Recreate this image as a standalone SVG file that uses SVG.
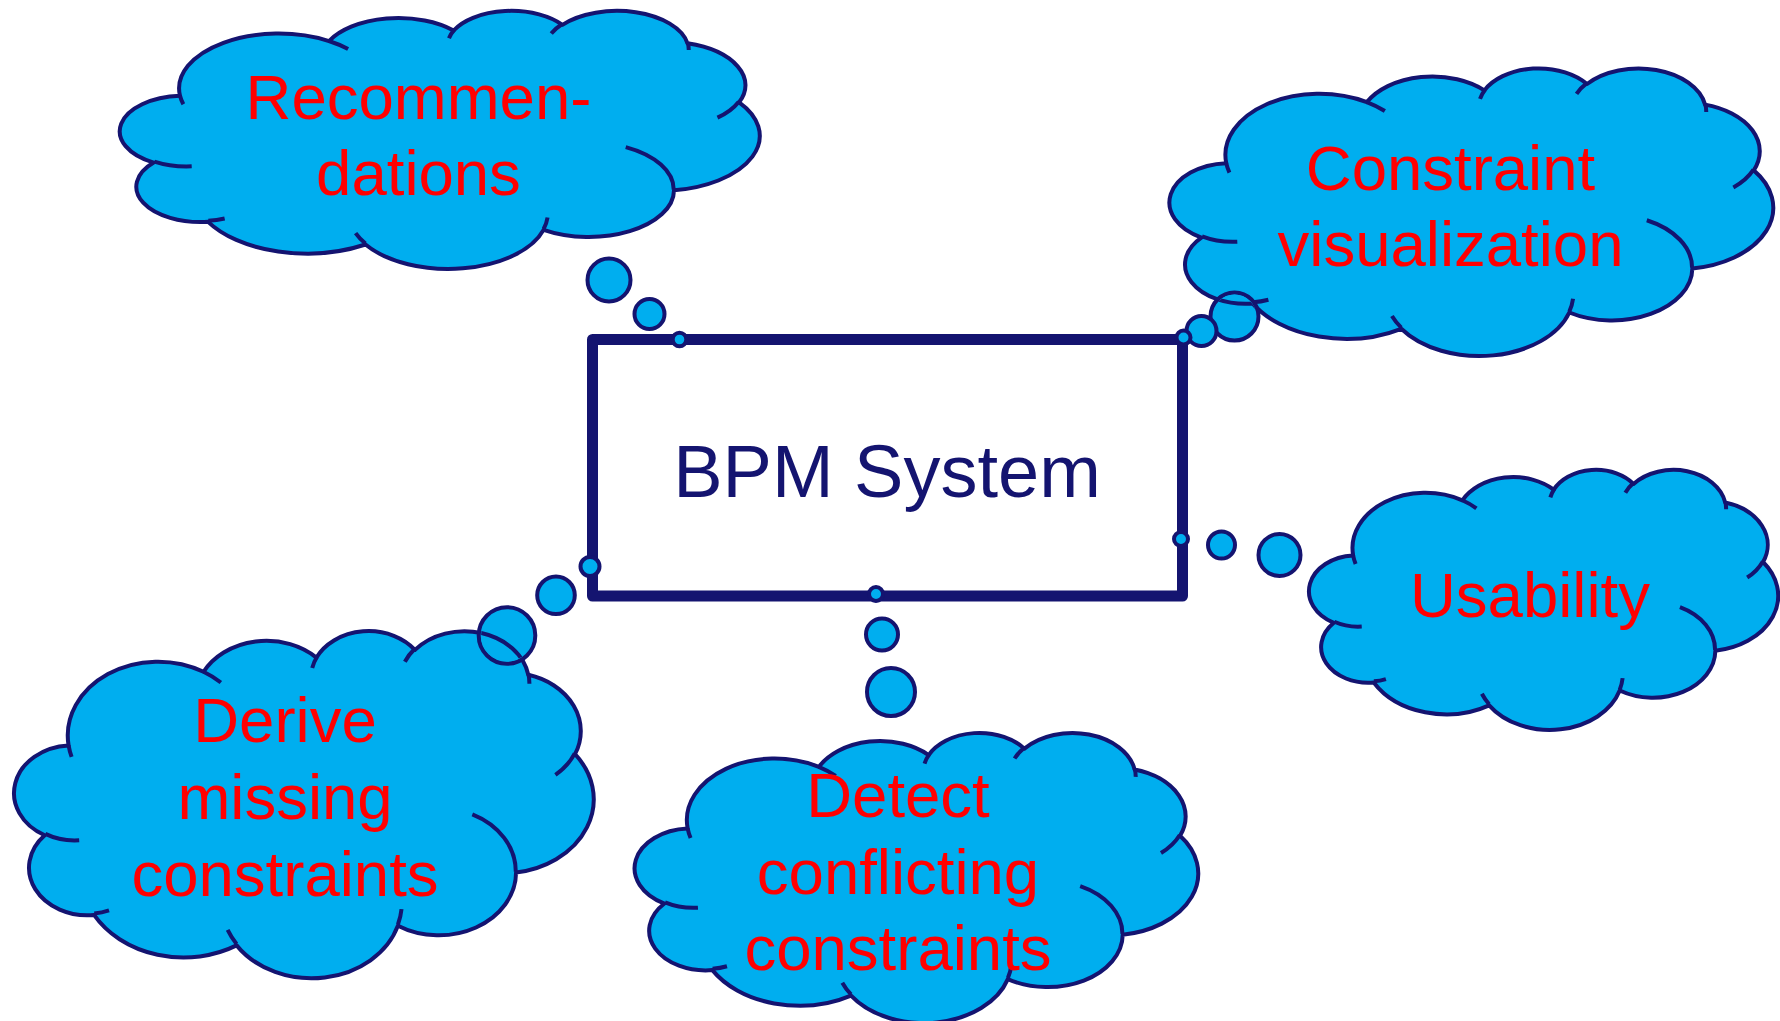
<svg xmlns="http://www.w3.org/2000/svg" xmlns:xlink="http://www.w3.org/1999/xlink" width="1780" height="1021" viewBox="0 0 1780 1021">
<style>
.cf{fill:#00AEEF;stroke:#141470;stroke-width:4;stroke-linejoin:round}
.ci{fill:none;stroke:#141470;stroke-width:4}
.bub{fill:#00AEEF;stroke:#141470;stroke-width:4}
.lbl{font-family:"Liberation Sans",Arial,sans-serif;font-size:63.5px;fill:#FF0000;text-anchor:middle}
.sys{font-family:"Liberation Sans",Arial,sans-serif;font-size:74px;fill:#141470;text-anchor:middle}
.box{fill:#FFFFFF;stroke:#141470;stroke-width:11;stroke-linejoin:round}
</style>
<defs>
<path id="cloudOuter" vector-effect="non-scaling-stroke" d="M3900 14370 A6753 9190 0 0 1 14005 5202 A5333 7267 0 0 1 22457 3433 A4365 5945 0 0 1 29834 2481 A4857 6595 0 0 1 38319 5576 A5333 7273 0 0 1 41819 15459 A6775 9220 0 0 1 37404 30200 A5785 7867 0 0 1 28556 36811 A6752 9215 0 0 1 16481 39264 A7720 10543 0 0 1 5806 35471 A4360 5918 0 0 1 2113 25550 A4345 5945 0 0 1 3900 14370 Z"/>
<path id="cloudInner" vector-effect="non-scaling-stroke" d="M4693 26177 A4345 5945 0 0 1 2159 25380 M6928 34899 A4360 5918 0 0 1 5820 35281 M16478 39090 A6752 9215 0 0 1 15809 37347 M28827 34751 A6752 9215 0 0 1 28560 36660 M34129 22954 A5785 7867 0 0 1 37380 30090 M41798 15354 A5333 7273 0 0 1 40350 18030 M38324 5426 A4857 6595 0 0 1 38401 6690 M29078 3952 A4857 6595 0 0 1 29820 2340 M22141 4720 A4365 5945 0 0 1 22500 3330 M14000 5192 A6753 9190 0 0 1 15301 6541 M4127 15789 A6753 9190 0 0 1 3900 14371"/>
<clipPath id="clipDerive"><circle cx="507" cy="635.5" r="26"/></clipPath>
<clipPath id="clipConstraint"><circle cx="1234.5" cy="316.5" r="22"/></clipPath>
</defs>

<g id="bpm-system">
<rect class="box" x="592.5" y="339.5" width="590" height="256.5"/>
<text class="sys" x="887" y="496.5">BPM System</text>
</g>

<g id="recommendations">
<g transform="translate(122.5 10) scale(0.014745 0.0059722)">
<use href="#cloudOuter" class="cf"/>
<use href="#cloudInner" class="ci"/>
</g>
<text class="lbl" x="418.5" y="118.5">Recommen-</text>
<text class="lbl" x="418.5" y="195">dations</text>
</g>

<g id="constraint-visualization">
<g id="constraint-shape" transform="translate(1172 67.5) scale(0.013912 0.0066551)">
<use href="#cloudOuter" class="cf"/>
<use href="#cloudInner" class="ci"/>
</g>
<text class="lbl" x="1450.5" y="189.5">Constraint</text>
<text class="lbl" x="1450.5" y="266">visualization</text>
</g>

<g id="usability">
<g transform="translate(1311 469) scale(0.010810 0.0060185)">
<use href="#cloudOuter" class="cf"/>
<use href="#cloudInner" class="ci"/>
</g>
<text class="lbl" x="1530" y="617">Usability</text>
</g>

<g id="detect-conflicting-constraints">
<g transform="translate(637 732) scale(0.012986 0.0067130)">
<use href="#cloudOuter" class="cf"/>
<use href="#cloudInner" class="ci"/>
</g>
<text class="lbl" x="898" y="817">Detect</text>
<text class="lbl" x="898" y="893.5">conflicting</text>
<text class="lbl" x="898" y="970">constraints</text>
</g>

<g id="derive-missing-constraints">
<g id="derive-shape" transform="translate(16.5 630) scale(0.013356 0.0080324)">
<use href="#cloudOuter" class="cf"/>
<use href="#cloudInner" class="ci"/>
</g>
<text class="lbl" x="285" y="742">Derive</text>
<text class="lbl" x="285" y="819">missing</text>
<text class="lbl" x="285" y="896">constraints</text>
</g>

<g id="connectors">
<circle class="bub" cx="609" cy="280" r="21.5"/>
<circle class="bub" cx="649.5" cy="314" r="15"/>
<circle class="bub" cx="679.5" cy="339.5" r="6.8"/>

<circle class="bub" cx="1234.5" cy="316.5" r="24"/>
<use href="#constraint-shape" clip-path="url(#clipConstraint)"/>
<circle class="bub" cx="1201.5" cy="331" r="15"/>
<circle class="bub" cx="1183.5" cy="337.5" r="7"/>

<circle class="bub" cx="1279.5" cy="555" r="21"/>
<circle class="bub" cx="1221.5" cy="545" r="13.5"/>
<circle class="bub" cx="1181" cy="539" r="7"/>

<circle class="bub" cx="891" cy="692" r="24"/>
<circle class="bub" cx="882" cy="634.5" r="16"/>
<circle class="bub" cx="876" cy="594" r="7"/>

<circle class="bub" cx="507" cy="635.5" r="28.3"/>
<use href="#derive-shape" clip-path="url(#clipDerive)"/>
<circle class="bub" cx="556" cy="595.3" r="18.8"/>
<circle class="bub" cx="590" cy="566.5" r="9.5"/>
</g>
</svg>
